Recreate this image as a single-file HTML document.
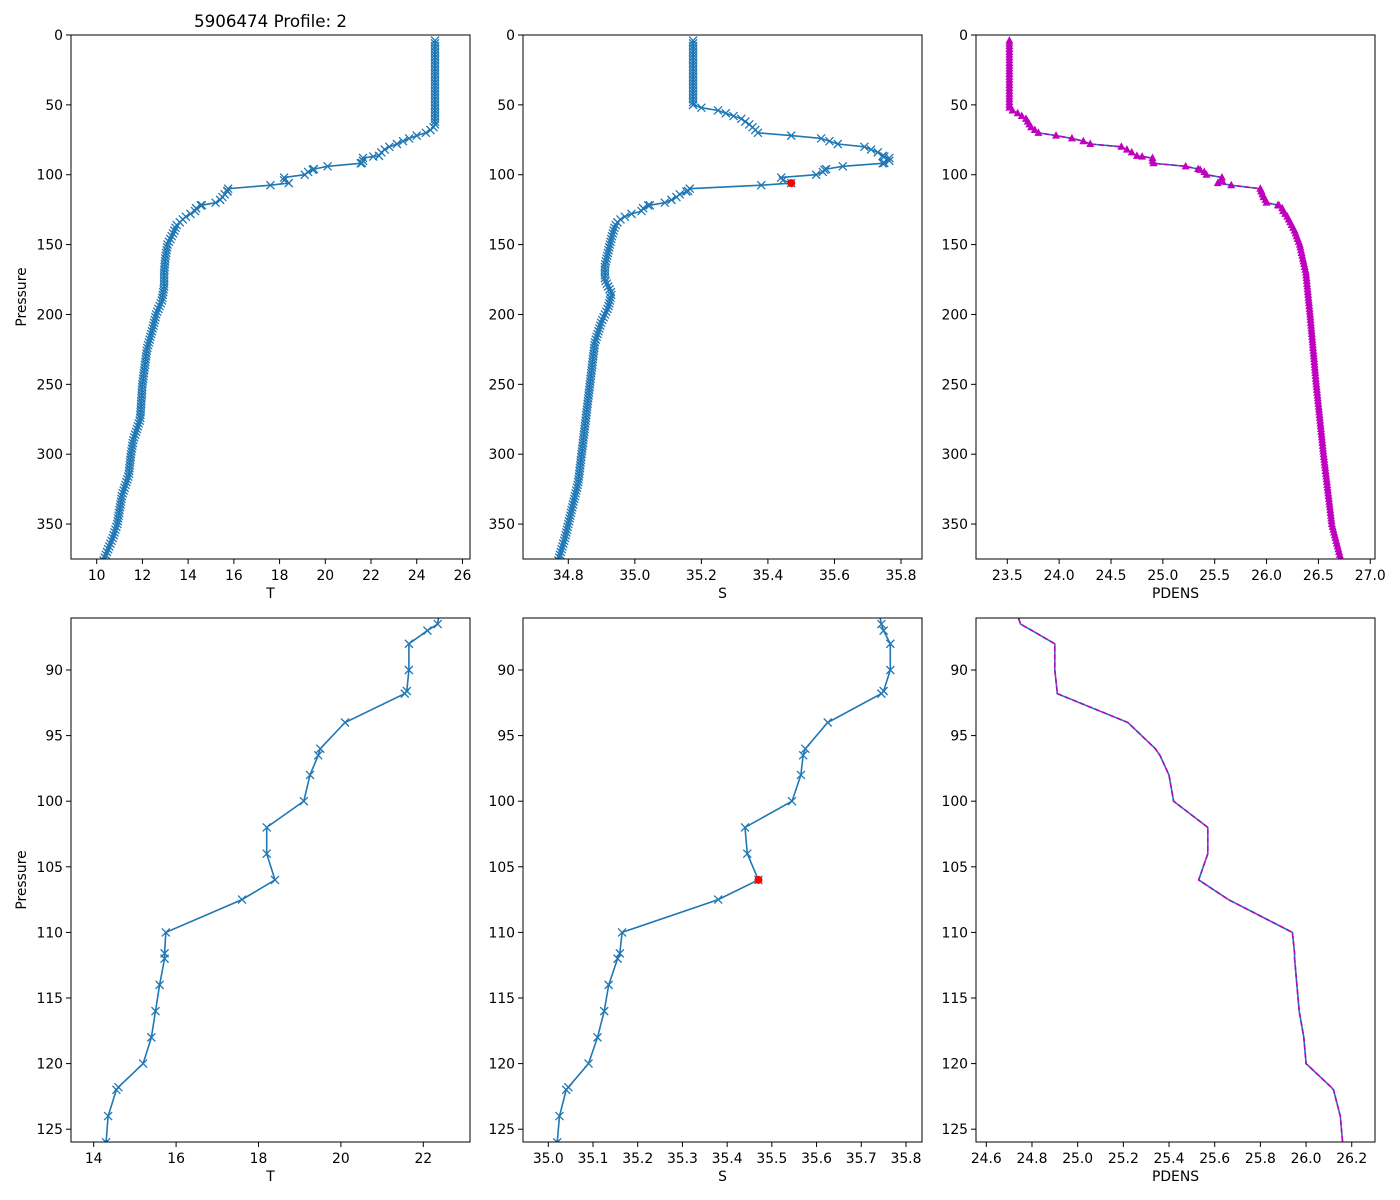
<!DOCTYPE html>
<html><head><meta charset="utf-8"><style>
html,body{margin:0;padding:0;background:#fff;width:1400px;height:1200px;overflow:hidden}
svg{display:block;font-family:"DejaVu Sans","Liberation Sans",sans-serif}
</style></head><body>
<svg id="s" width="1400" height="1200" xmlns="http://www.w3.org/2000/svg"></svg>
<script>
var S=document.getElementById('s');var out='';
var B='#1f77b4',M='#bf00bf';
function lin(kn,p){for(var i=0;i<kn.length-1;i++){if(p>=kn[i][0]&&p<=kn[i+1][0]){var t=(p-kn[i][0])/(kn[i+1][0]-kn[i][0]);return kn[i][1]+t*(kn[i+1][1]-kn[i][1]);}}return kn[kn.length-1][1];}
var zp=[86.5,87,88,90,91.6,91.8,94,96,96.5,98,100,102,104,106,107.5,110,111.6,112,114,116,118,120,121.8,122,124,126];
var zT=[22.35,22.1,21.65,21.65,21.6,21.55,20.1,19.5,19.45,19.25,19.1,18.2,18.2,18.4,17.6,15.75,15.72,15.72,15.6,15.5,15.4,15.2,14.6,14.55,14.35,14.3];
var zS=[35.745,35.75,35.765,35.765,35.75,35.745,35.625,35.575,35.57,35.565,35.545,35.44,35.445,35.47,35.38,35.165,35.16,35.155,35.135,35.125,35.11,35.09,35.045,35.04,35.025,35.02];
var zD=[24.75,24.8,24.9,24.9,24.91,24.91,25.22,25.34,25.36,25.4,25.42,25.57,25.57,25.53,25.66,25.94,25.95,25.95,25.96,25.97,25.99,26.0,26.11,26.12,26.15,26.16];
var Tk=[[0,24.8],[65,24.8],[68,24.6],[70,24.4],[72,24.0],[75,23.5],[77,23.3],[80,22.8],[82,22.6],[84,22.45],[86.5,22.35],[126,14.3],[128,14.1],[130,13.9],[133,13.7],[136,13.5],[140,13.4],[145,13.25],[150,13.1],[160,13.0],[170,12.95],[180,12.95],[190,12.85],[200,12.6],[210,12.45],[225,12.2],[250,12.0],[275,11.9],[290,11.6],[300,11.5],[315,11.4],[330,11.1],[350,10.9],[360,10.7],[376,10.3]];
var Sk=[[0,35.175],[50,35.175],[52,35.2],[54,35.25],[60,35.32],[65,35.35],[70,35.37],[72,35.47],[74,35.56],[78,35.61],[80,35.69],[84,35.73],[86.5,35.745],[126,35.02],[128,34.99],[130,34.97],[133,34.95],[137,34.94],[145,34.93],[155,34.92],[165,34.91],[175,34.91],[185,34.93],[195,34.92],[205,34.9],[220,34.88],[240,34.87],[260,34.86],[280,34.85],[300,34.84],[320,34.83],[340,34.81],[360,34.79],[376,34.77]];
var Dk=[[0,23.52],[52,23.52],[54,23.55],[56,23.6],[60,23.68],[66,23.73],[70,23.8],[72,23.97],[75,24.2],[78,24.3],[80,24.6],[83,24.68],[86.5,24.75],[126,26.16],[130,26.2],[140,26.27],[150,26.32],[170,26.38],[200,26.42],[250,26.48],[300,26.55],[350,26.63],[376,26.72]];
var P=[],T=[],Sa=[],D=[];
for(var p=4;p<86;p+=2){P.push(p);T.push(lin(Tk,p));Sa.push(lin(Sk,p));D.push(lin(Dk,p));}
for(var i=0;i<zp.length;i++){P.push(zp[i]);T.push(zT[i]);Sa.push(zS[i]);D.push(zD[i]);}
for(var p=128;p<=376;p+=2){P.push(p);T.push(lin(Tk,p));Sa.push(lin(Sk,p));D.push(lin(Dk,p));}
function txt(x,y,str,a,sz,extra){out+='<text x="'+x+'" y="'+y+'" font-size="'+(sz||13.9)+'" text-anchor="'+(a||'middle')+'" '+(extra||'')+'>'+str+'</text>';}
function panel(ax){
 var L=ax.L,R=ax.R,Tp=ax.T,Bt=ax.B;
 function X(v){return ax.x0px+(v-ax.x0)*ax.xs;}
 function Y(v){return ax.y0px+(v-ax.y0)*ax.ys;}
 out+='<defs><clipPath id="c'+ax.id+'"><rect x="'+L+'" y="'+Tp+'" width="'+(R-L)+'" height="'+(Bt-Tp)+'"/></clipPath></defs>';
 out+='<g clip-path="url(#c'+ax.id+')">';
 var pts=[];for(var i=0;i<P.length;i++)pts.push(X(ax.d[i]).toFixed(1)+','+Y(P[i]).toFixed(1));
 out+='<polyline points="'+pts.join(' ')+'" fill="none" stroke="'+B+'" stroke-width="1.6"/>';
 if(ax.dash)out+='<polyline points="'+pts.join(' ')+'" fill="none" stroke="'+M+'" stroke-width="1.6" stroke-dasharray="5,3"/>';
 if(ax.mk=='x'){for(var i=0;i<P.length;i++){var x=X(ax.d[i]),y=Y(P[i]);out+='<path d="M'+(x-4)+','+(y-4)+'L'+(x+4)+','+(y+4)+'M'+(x-4)+','+(y+4)+'L'+(x+4)+','+(y-4)+'" stroke="'+B+'" stroke-width="1.3"/>';}}
 if(ax.mk=='^'){for(var i=0;i<P.length;i++){var x=X(ax.d[i]),y=Y(P[i]);out+='<path d="M'+x+','+(y-4.5)+'L'+(x+4)+','+(y+3)+'L'+(x-4)+','+(y+3)+'Z" fill="'+M+'"/>';}}
 if(ax.red){out+='<circle cx="'+X(35.47)+'" cy="'+Y(106)+'" r="4" fill="#ff0000"/>';}
 out+='</g>';
 out+='<rect x="'+L+'" y="'+Tp+'" width="'+(R-L)+'" height="'+(Bt-Tp)+'" fill="none" stroke="#000" stroke-width="1"/>';
 ax.xt.forEach(function(v){var x=X(v);out+='<line x1="'+x+'" y1="'+Bt+'" x2="'+x+'" y2="'+(Bt+5)+'" stroke="#000"/>';txt(x,Bt+21,ax.xf(v));});
 ax.yt.forEach(function(v){var y=Y(v);out+='<line x1="'+(L-5)+'" y1="'+y+'" x2="'+L+'" y2="'+y+'" stroke="#000"/>';txt(L-8,y+5,String(v),'end');});
 txt((L+R)/2,Bt+39,ax.xl);
 if(ax.yl)txt(0,0,'Pressure','middle',13.9,'transform="translate('+(L-45)+','+((Tp+Bt)/2)+') rotate(-90)"');
}
function rng(a,b,s){var r=[];for(var v=a;v<=b+1e-9;v+=s)r.push(Math.round(v*100)/100);return r;}
var topY=rng(0,350,50),botY=rng(90,125,5);
var tb={T:35,B:559,y0:0,y0px:35,ys:524/375,yt:topY};
var bb={T:618,B:1142,y0:90,y0px:670,ys:13.12,yt:botY};
function mk(o,base){for(var k in base)o[k]=base[k];return o;}
var f0=function(v){return String(v);},f1=function(v){return v.toFixed(1);};
panel(mk({id:1,L:71,R:470,x0:10,x0px:96.7,xs:22.86,d:T,mk:'x',xt:rng(10,26,2),xf:f0,xl:'T',yl:1},tb));
panel(mk({id:2,L:523,R:922,x0:34.8,x0px:568.3,xs:332.7,d:Sa,mk:'x',red:1,xt:rng(34.8,35.8,0.2),xf:f1,xl:'S'},tb));
panel(mk({id:3,L:976,R:1375,x0:23.5,x0px:1007.3,xs:103.7,d:D,mk:'^',dash:1,xt:rng(23.5,27,0.5),xf:f1,xl:'PDENS'},tb));
panel(mk({id:4,L:71,R:470,x0:14,x0px:93.7,xs:41.2,d:T,mk:'x',xt:rng(14,22,2),xf:f0,xl:'T',yl:1},bb));
panel(mk({id:5,L:523,R:922,x0:35.0,x0px:548.3,xs:447.1,d:Sa,mk:'x',red:1,xt:rng(35.0,35.8,0.1),xf:f1,xl:'S'},bb));
panel(mk({id:6,L:976,R:1375,x0:24.6,x0px:986.3,xs:228.4,d:D,mk:'',dash:1,xt:rng(24.6,26.2,0.2),xf:f1,xl:'PDENS'},bb));
txt(270.5,27,'5906474 Profile: 2','middle',16.7);
S.innerHTML=out;
</script>
</body></html>
